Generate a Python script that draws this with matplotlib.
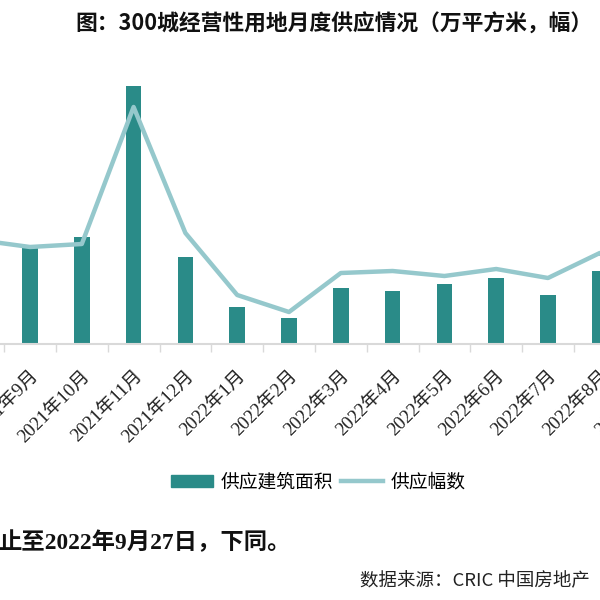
import matplotlib
matplotlib.use('Agg')
from matplotlib import pyplot as plt
from matplotlib.patches import Patch
from matplotlib.lines import Line2D

plt.rcParams['font.family'] = ['Noto Sans CJK SC', 'DejaVu Sans']

months = ['2021年8月', '2021年9月', '2021年10月', '2021年11月', '2021年12月',
          '2022年1月', '2022年2月', '2022年3月', '2022年4月', '2022年5月',
          '2022年6月', '2022年7月', '2022年8月', '2022年9月']
# 供应建筑面积 (万平方米)
area = [900, 960, 1070, 2580, 870, 370, 260, 560, 530, 600, 660, 490, 730, 400]
# 供应幅数 (幅)
parcels = [208, 194, 200, 474, 222, 98, 64, 142, 146, 136, 150, 132, 182, 120]

bar_color = '#2A8B88'
line_color = '#95C8CC'

fig = plt.figure(figsize=(6, 6), dpi=100)
ax = fig.add_axes([-47.7 / 600, 256 / 600, 725.2 / 600, 284 / 600])
x = list(range(len(months)))
ax.bar(x, area, width=0.3, color=bar_color, zorder=2)
ax.set_xlim(-0.5, len(months) - 0.5)
ax.set_ylim(0, 2840)

ax2 = ax.twinx()
ax2.plot(x, parcels, color=line_color, linewidth=3.2, solid_joinstyle='round', zorder=3)
ax2.set_ylim(0, 568)

for a in (ax, ax2):
    for s in ('top', 'left', 'right'):
        a.spines[s].set_visible(False)
    a.set_yticks([])
ax.spines['bottom'].set_color('#D9D9D9')
ax.spines['bottom'].set_linewidth(1.5)
ax2.spines['bottom'].set_visible(False)

ax.set_xticks([i + 0.5 for i in x[:-1]], minor=True)
ax.tick_params(axis='x', which='minor', length=6, width=1, color='#D9D9D9')
ax.tick_params(axis='x', which='major', length=0, pad=17)
ax.set_xticks(x)
ax.set_xticklabels(months, rotation=45, ha='right', va='top', rotation_mode='anchor',
                   family=['Liberation Serif', 'Noto Sans CJK SC'], fontsize=13.5, color='#222222')

fig.text(334 / 600, 1 - 24 / 600, '图：300城经营性用地月度供应情况（万平方米，幅）',
         ha='center', va='center', fontsize=15.7, fontweight='bold', color='#111111')

handles = [Patch(color=bar_color), Line2D([0], [0], color=line_color, linewidth=3.2)]
fig.legend(handles, ['供应建筑面积', '供应幅数'], loc='center',
           bbox_to_anchor=(318 / 600, 1 - 482 / 600), ncol=2, frameon=False,
           fontsize=13.5, handlelength=2.25, handleheight=0.6,
           handletextpad=0.4, columnspacing=0.4)

fig.text(-2 / 600, 1 - 543 / 600, '止至2022年9月27日，下同。', ha='left', va='center',
         fontsize=16.8, fontweight='bold', family=['Liberation Serif', 'Noto Sans CJK SC'],
         color='#111111')
fig.text(590 / 600, 1 - 581 / 600, '数据来源：CRIC 中国房地产', ha='right', va='center',
         fontsize=13.3, color='#222222')

fig.savefig('out.png', dpi=100)
